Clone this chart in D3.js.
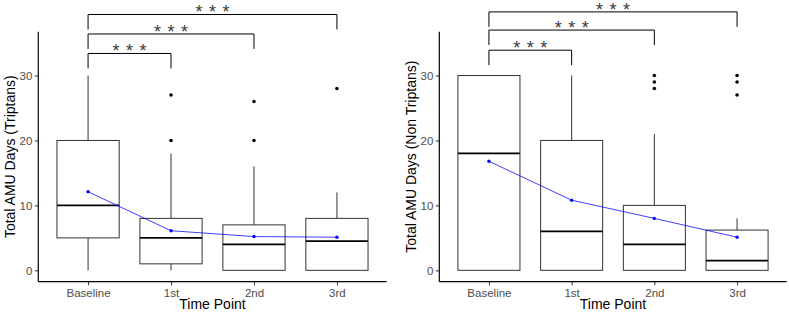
<!DOCTYPE html>
<html>
<head>
<meta charset="utf-8">
<script src="https://cdn.jsdelivr.net/npm/d3@7"></script>
<style>
  body { margin: 0; background: #fff; }
  text { font-family: "Liberation Sans", Arial, sans-serif; }
</style>
</head>
<body>
<div id="chart"></div>
<script>
const timePoints = ['Baseline', '1st', '2nd', '3rd'];

// Triptans panel
const tripLow = [0, 0, 0, 0];
const tripQ1 = [5, 1, 0, 0];
const tripMedian = [10, 5, 4, 4.5];
const tripQ3 = [20, 8, 7, 8];
const tripHigh = [30, 18, 16, 12];
const tripMean = [12.1, 6.1, 5.2, 5.1];
const tripOutliers = [[], [20, 27], [20, 26], [28]];
const tripBrackets = [33.4, 36.4, 39.4];

// Non triptans panel
const nonLow = [0, 0, 0, 0];
const nonQ1 = [0, 0, 0, 0];
const nonMedian = [18, 6, 4, 1.5];
const nonQ3 = [30, 20, 10, 6.2];
const nonHigh = [30, 30, 21, 8];
const nonMean = [16.8, 10.8, 8.0, 5.1];
const nonOutliers = [[], [], [28, 29, 30], [27, 29, 30]];
const nonBrackets = [33.9, 37.0, 39.8];

const compareTo = ['1st', '2nd', '3rd'];
const sigLabels = ['* * *', '* * *', '* * *'];
const yTicks = [0, 10, 20, 30];

const svg = d3.select('#chart').append('svg')
  .attr('width', 789).attr('height', 314);

function drawPanel(opts) {
  const left = opts.left, right = opts.right, top = 31.7, bottom = 281.7;

  const y = d3.scaleLinear().domain([-1.75, 36.75]).range([bottom, top]);
  // ggplot discrete: 0.6 expansion each side over 4 categories
  const x = d3.scalePoint().domain(timePoints);
  const step = (right - left) / 4.2;
  x.range([left + 0.6 * step, right - 0.6 * step]);
  const bw = step * 0.75;

  const g = svg.append('g');

  const rows = timePoints.map((t, i) => ({
    t, low: opts.low[i], q1: opts.q1[i], med: opts.median[i],
    q3: opts.q3[i], high: opts.high[i], mean: opts.mean[i], out: opts.outliers[i]
  }));

  // whiskers
  g.selectAll('.wu').data(rows).join('line')
    .attr('x1', d => x(d.t)).attr('x2', d => x(d.t))
    .attr('y1', d => y(d.q3)).attr('y2', d => y(d.high))
    .attr('stroke', '#333').attr('stroke-width', 1);
  g.selectAll('.wl').data(rows).join('line')
    .attr('x1', d => x(d.t)).attr('x2', d => x(d.t))
    .attr('y1', d => y(d.q1)).attr('y2', d => y(d.low))
    .attr('stroke', '#333').attr('stroke-width', 1);

  // boxes
  g.selectAll('.box').data(rows).join('rect')
    .attr('x', d => x(d.t) - bw / 2).attr('width', bw)
    .attr('y', d => y(d.q3)).attr('height', d => y(d.q1) - y(d.q3))
    .attr('fill', '#fff').attr('stroke', '#333').attr('stroke-width', 1);

  // medians
  g.selectAll('.med').data(rows).join('line')
    .attr('x1', d => x(d.t) - bw / 2).attr('x2', d => x(d.t) + bw / 2)
    .attr('y1', d => y(d.med)).attr('y2', d => y(d.med))
    .attr('stroke', '#000').attr('stroke-width', 1.8);

  // outliers
  const outs = rows.flatMap(d => d.out.map(v => ({ t: d.t, v })));
  g.selectAll('.out').data(outs).join('circle')
    .attr('cx', d => x(d.t)).attr('cy', d => y(d.v)).attr('r', 1.8)
    .attr('fill', '#000');

  // mean line
  const line = d3.line().x(d => x(d.t)).y(d => y(d.mean));
  g.append('path').datum(rows).attr('d', line)
    .attr('fill', 'none').attr('stroke', '#0000ff').attr('stroke-opacity', 0.75)
    .attr('stroke-width', 1);
  g.selectAll('.mean').data(rows).join('circle')
    .attr('cx', d => x(d.t)).attr('cy', d => y(d.mean)).attr('r', 1.7)
    .attr('fill', '#0000ff');

  // significance brackets
  const br = compareTo.map((c, i) => ({ c, yv: opts.brackets[i], lab: sigLabels[i] }));
  g.selectAll('.br').data(br).join('path')
    .attr('d', d => {
      const x1 = x('Baseline'), x2 = x(d.c);
      const yl = y(d.yv), yt = y(d.yv - 2.3);
      return `M${x1},${yt}V${yl}H${x2}V${yt}`;
    })
    .attr('fill', 'none').attr('stroke', '#000').attr('stroke-width', 1);
  g.selectAll('.sig').data(br).join('text')
    .attr('x', d => (x('Baseline') + x(d.c)) / 2)
    .attr('y', d => y(d.yv) + 4)
    .attr('text-anchor', 'middle')
    .attr('fill', '#3a3a3a').attr('font-size', 18).style('word-spacing', '1.5px')
    .text(d => d.lab);

  // axes
  const yAxis = g.append('g').attr('transform', `translate(${left},0)`)
    .call(d3.axisLeft(y).tickValues(yTicks).tickSize(3.5).tickPadding(2.5));
  const xAxis = g.append('g').attr('transform', `translate(0,${bottom})`)
    .call(d3.axisBottom(x).tickSize(3.5).tickPadding(4));
  [yAxis, xAxis].forEach(a => {
    a.select('.domain').remove();
    a.selectAll('.tick line').attr('stroke', '#333');
    a.selectAll('.tick text').attr('fill', '#4d4d4d').attr('font-size', 11.5)
      .style('font-family', '"Liberation Sans", Arial, sans-serif');
  });
  g.append('line').attr('x1', left).attr('x2', left)
    .attr('y1', top).attr('y2', bottom).attr('stroke', '#000').attr('stroke-width', 1.2);
  g.append('line').attr('x1', left).attr('x2', right)
    .attr('y1', bottom).attr('y2', bottom).attr('stroke', '#000').attr('stroke-width', 1.2);

  g.append('text')
    .attr('transform', `translate(${left - 23.5},${(top + bottom) / 2}) rotate(-90)`)
    .attr('text-anchor', 'middle').attr('font-size', 14).attr('fill', '#000')
    .text(opts.ylabel);
  g.append('text')
    .attr('x', (left + right) / 2).attr('y', 308.8)
    .attr('text-anchor', 'middle').attr('font-size', 14).attr('fill', '#000')
    .text('Time Point');
}

drawPanel({
  left: 38.3, right: 386.7, low: tripLow, q1: tripQ1, median: tripMedian,
  q3: tripQ3, high: tripHigh, mean: tripMean, outliers: tripOutliers,
  brackets: tripBrackets, ylabel: 'Total AMU Days (Triptans)'
});
drawPanel({
  left: 439.3, right: 786.7, low: nonLow, q1: nonQ1, median: nonMedian,
  q3: nonQ3, high: nonHigh, mean: nonMean, outliers: nonOutliers,
  brackets: nonBrackets, ylabel: 'Total AMU Days (Non Triptans)'
});
</script>
</body>
</html>
